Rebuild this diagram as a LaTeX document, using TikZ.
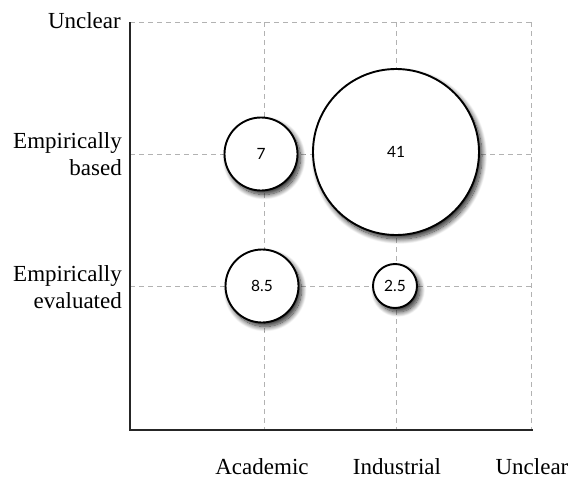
\documentclass[tikz,border=0pt]{standalone}
\usepackage{fontspec}
\setmainfont{Liberation Serif}
\newfontfamily\bubblefont{Lato}
\usetikzlibrary{shadows.blur}
\begin{document}
\begin{tikzpicture}[x=1pt,y=-1pt,
  gridline/.style={draw=black!30,line width=1pt,dash pattern=on 5pt off 4pt},
  axisline/.style={draw=black!85,line width=1.6pt},
  bubble/.style={circle,draw=black,line width=1.9pt,fill=white,inner sep=0pt,
    font=\bubblefont\fontsize{15.5}{17}\selectfont,
    blur shadow={shadow xshift=3pt,shadow yshift=-4pt,shadow blur steps=14,shadow blur radius=5pt,shadow opacity=85}},
  lab/.style={font=\fontsize{23}{27}\selectfont,inner sep=0pt}]
\useasboundingbox (0,0) rectangle (571,482);
% grid coordinates
\coordinate (o) at (130,430);
\coordinate (tl) at (130,22);
\coordinate (tr) at (531,22);
\coordinate (bl) at (130,154);
\coordinate (br) at (531,154);
\coordinate (el) at (130,286);
\coordinate (er) at (531,286);
\coordinate (at) at (264,22);
\coordinate (ab) at (264,430);
\coordinate (it) at (396,22);
\coordinate (ib) at (396,430);
\coordinate (ut) at (531,22);
\coordinate (ub) at (531,430);
\coordinate (xe) at (533,430);
\draw[gridline] (tl) -- (tr);
\draw[gridline] (bl) -- (br);
\draw[gridline] (el) -- (er);
\draw[gridline] (at) -- (ab);
\draw[gridline] (it) -- (ib);
\draw[gridline] (ut) -- (ub);
\draw[axisline] (tl) -- (o) -- (xe);
% bubbles
\node[bubble,minimum size=73pt] (b7) at (261,154) {7};
\node[bubble,minimum size=166pt] (b41) at (396,152) {41};
\node[bubble,minimum size=73pt] (b85) at (262,286) {8.5};
\node[bubble,minimum size=44pt] (b25) at (395,286) {2.5};
% labels
\node[lab,anchor=east] (lu) at (121,21) {Unclear};
\node[lab,anchor=east,align=right] (lb) at (122,154) {Empirically\\based};
\node[lab,anchor=east,align=right] (le) at (122,287) {Empirically\\evaluated};
\node[lab] (xa) at (262,467) {Academic};
\node[lab] (xi) at (397,467) {Industrial};
\node[lab] (xu) at (532,467) {Unclear};
\end{tikzpicture}
\end{document}
